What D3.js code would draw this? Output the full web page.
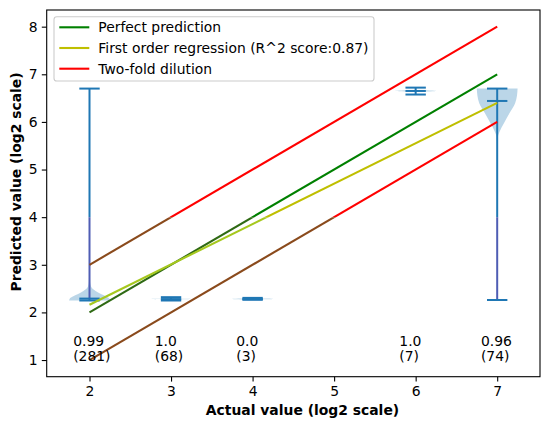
<!DOCTYPE html>
<html>
<head>
<meta charset="utf-8">
<script src="https://cdn.jsdelivr.net/npm/d3@7"></script>
<style>
  html, body { margin: 0; padding: 0; background: #fff; }
  svg { display: block; font-family: "DejaVu Sans", sans-serif; }
</style>
</head>
<body>
<svg id="chart" width="550" height="424"></svg>
<script>
// ---------------- data ----------------
const positions = [2, 3, 4, 6, 7];
const accuracies = ["0.99", "1.0", "0.0", "1.0", "0.96"];
const counts = [281, 68, 3, 7, 74];
const mins = [2.25, 2.25, 2.265, 6.575, 2.26];
const maxs = [6.70, 2.32, 2.305, 6.72, 6.70];
const medians = [2.29, 2.28, 2.28, 6.65, 6.44];
// density profiles: [value, relative half-width]
const density2 = [[2.25, 1.0], [2.30, 0.95], [2.36, 0.7], [2.42, 0.42], [2.48, 0.2], [2.54, 0.08], [2.65, 0.03], [3.0, 0.015], [4.0, 0.012], [5.5, 0.008], [6.7, 0.008]];
const density3 = [[2.27, 0.0], [2.28, 1.0], [2.29, 0.0]];
const density4 = [[2.27, 0.0], [2.283, 1.0], [2.296, 0.0]];
const density6 = [[6.63, 0.0], [6.65, 1.0], [6.67, 0.0]];
const density7 = [[2.26, 0.02], [3.0, 0.01], [4.0, 0.01], [5.0, 0.01], [5.55, 0.012], [5.69, 0.03], [5.79, 0.11], [5.97, 0.33], [6.18, 0.6], [6.39, 0.88], [6.55, 0.97], [6.70, 1.0]];
const densities = [density2, density3, density4, density6, density7];

const xTicks = [2, 3, 4, 5, 6, 7];
const yTicks = [1, 2, 3, 4, 5, 6, 7, 8];

const perfectLine = [[2, 2], [7, 7]];
const regressionLine = [[2, 2.16], [7, 6.40]];
const dilutionUpper = [[2, 3], [7, 8]];
const dilutionLower = [[2, 1], [7, 6]];
const legendLabels = ["Perfect prediction", "First order regression (R^2 score:0.87)", "Two-fold dilution"];

// ---------------- layout ----------------
const L = 46.7, R = 540, T = 10, B = 376.7;
const FS = 13.9;
const svg = d3.select("#chart");
const x = d3.scaleLinear().domain([1.475, 7.525]).range([L, R]);
const y = d3.scaleLinear().domain([0.65, 8.35]).range([B, T]);

const C0 = "#1f77b4";
const violinHalf = 0.25;
const capHalf = 0.125;

// ---------------- violins ----------------
const g = svg.append("g");
densities.forEach((dens, i) => {
  const p = positions[i];
  const area = d3.area()
    .y(d => y(d[0]))
    .x0(d => x(p - violinHalf * d[1]))
    .x1(d => x(p + violinHalf * d[1]))
    .curve(d3.curveMonotoneY);
  g.append("path").datum(dens).attr("d", area)
    .attr("fill", C0).attr("fill-opacity", 0.3).attr("stroke", "none");
});

// clip regions for colour shift seen below value 4 in the reference
const defs = svg.append("defs");
defs.append("clipPath").attr("id", "upper").append("rect")
  .attr("x", 0).attr("y", 0).attr("width", 550).attr("height", y(4));
defs.append("clipPath").attr("id", "lower").append("rect")
  .attr("x", 0).attr("y", y(4)).attr("width", 550).attr("height", 424 - y(4));

const stemsShift = [true, false, false, false, true];
positions.forEach((p, i) => {
  const lw = 2.0;
  if (maxs[i] - mins[i] > 0.2) {
    g.append("line").attr("x1", x(p)).attr("x2", x(p))
      .attr("y1", y(mins[i])).attr("y2", y(maxs[i]))
      .attr("stroke", C0).attr("stroke-width", lw).attr("clip-path", "url(#upper)");
    g.append("line").attr("x1", x(p)).attr("x2", x(p))
      .attr("y1", y(mins[i])).attr("y2", y(maxs[i]))
      .attr("stroke", stemsShift[i] ? "#4f5db4" : C0).attr("stroke-width", lw).attr("clip-path", "url(#lower)");
  } else {
    g.append("line").attr("x1", x(p)).attr("x2", x(p))
      .attr("y1", y(mins[i])).attr("y2", y(maxs[i]))
      .attr("stroke", C0).attr("stroke-width", lw);
  }
  [mins[i], maxs[i], medians[i]].forEach(v => {
    g.append("line").attr("x1", x(p - capHalf)).attr("x2", x(p + capHalf))
      .attr("y1", y(v)).attr("y2", y(v))
      .attr("stroke", C0).attr("stroke-width", lw);
  });
});

// ---------------- reference lines ----------------
const line = d3.line().x(d => x(d[0])).y(d => y(d[1]));
const refs = [
  { data: perfectLine, color: "#008000", shifted: "#2f6a14" },
  { data: regressionLine, color: "#bfbf00", shifted: "#a6c81e" },
  { data: dilutionUpper, color: "#ff0000", shifted: "#8a4a1c" },
  { data: dilutionLower, color: "#ff0000", shifted: "#8a4a1c" }
];
refs.forEach(r => {
  svg.append("path").datum(r.data).attr("d", line).attr("fill", "none")
    .attr("stroke", r.color).attr("stroke-width", 2.1).attr("clip-path", "url(#upper)");
  svg.append("path").datum(r.data).attr("d", line).attr("fill", "none")
    .attr("stroke", r.shifted).attr("stroke-width", 2.1).attr("clip-path", "url(#lower)");
});

// ---------------- annotations ----------------
positions.forEach((p, i) => {
  const t = svg.append("text").attr("font-size", FS).attr("fill", "#000");
  t.append("tspan").attr("x", x(p - 0.2)).attr("y", y(1) - 14.4).text(accuracies[i]);
  t.append("tspan").attr("x", x(p - 0.2)).attr("y", y(1) + 1).text("(" + counts[i] + ")");
});

// ---------------- axes ----------------
const xAxis = d3.axisBottom(x).tickValues(xTicks).tickFormat(d3.format("d"))
  .tickSize(4.9).tickPadding(4.2);
const yAxis = d3.axisLeft(y).tickValues(yTicks).tickFormat(d3.format("d"))
  .tickSize(4.9).tickPadding(4.2);
const gx = svg.append("g").attr("transform", `translate(0,${B})`).call(xAxis);
const gy = svg.append("g").attr("transform", `translate(${L},0)`).call(yAxis);
[gx, gy].forEach(a => {
  a.select(".domain").remove();
  a.selectAll("text").attr("font-size", FS).attr("font-family", "DejaVu Sans").attr("fill", "#000");
  a.selectAll("line").attr("stroke", "#000").attr("stroke-width", 1.1);
});
svg.append("rect").attr("x", L).attr("y", T).attr("width", R - L).attr("height", B - T)
  .attr("fill", "none").attr("stroke", "#000").attr("stroke-width", 1.1);

svg.append("text").attr("x", 302.5).attr("y", 415).attr("text-anchor", "middle")
  .attr("font-size", FS).attr("font-weight", "bold").text("Actual value (log2 scale)");
svg.append("text").attr("transform", "translate(21,182) rotate(-90)").attr("text-anchor", "middle")
  .attr("font-size", FS).attr("font-weight", "bold").text("Predicted value (log2 scale)");

// ---------------- legend ----------------
const leg = svg.append("g");
leg.append("rect").attr("x", 54).attr("y", 16.7).attr("width", 320).attr("height", 64.3)
  .attr("rx", 2.8).attr("fill", "#fff").attr("fill-opacity", 0.8)
  .attr("stroke", "#cccccc").attr("stroke-width", 1.1);
const legColors = ["#008000", "#bfbf00", "#ff0000"];
const rowY = [27.3, 48.0, 68.7];
legendLabels.forEach((lab, i) => {
  leg.append("line").attr("x1", 59.3).attr("x2", 89.3).attr("y1", rowY[i]).attr("y2", rowY[i])
    .attr("stroke", legColors[i]).attr("stroke-width", 2.1);
  leg.append("text").attr("x", 98.3).attr("y", rowY[i] + 5).attr("font-size", FS).text(lab);
});
</script>
</body>
</html>
